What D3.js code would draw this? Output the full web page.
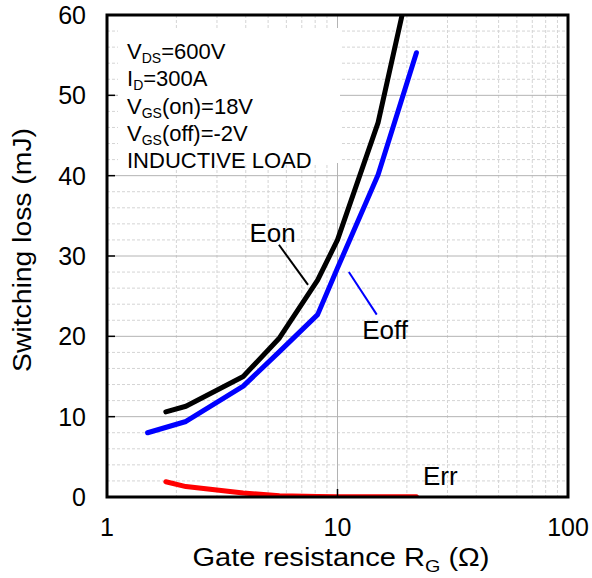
<!DOCTYPE html>
<html>
<head>
<meta charset="utf-8">
<script src="https://cdn.jsdelivr.net/npm/d3@7"></script>
<style>
    body { margin: 0; background: #fff; }
    svg { display: block; font-family: "Liberation Sans", Arial, sans-serif; }
</style>
</head>
<body>
<div id="chart"></div>
<script>
// Gate resistance (ohm) for each measured point
const rgOn = [1.8, 2.2, 3.9, 5.6, 8.2, 10, 15, 22];
const rgOff = [1.5, 2.2, 3.9, 5.6, 8.2, 10, 15, 22];
const rgRr = [1.8, 2.2, 3.9, 5.6, 8.2, 10, 15, 22];
// Switching loss (mJ)
const eOn = [10.6, 11.3, 15.0, 19.8, 27.0, 32.0, 46.6, 68];
const eOff = [8.0, 9.4, 13.8, 18.1, 22.7, 28.5, 40.1, 55.3];
const eRr = [1.9, 1.3, 0.5, 0.15, 0.05, 0.03, 0.02, 0.02];
// Ticks
const xTicks = [1, 10, 100];
const yTicks = [0, 10, 20, 30, 40, 50, 60];
// Conditions box
const conditions = [
    ["V", "DS", "=600V"],
    ["I", "D", "=300A"],
    ["V", "GS", "(on)=18V"],
    ["V", "GS", "(off)=-2V"],
    ["INDUCTIVE LOAD", "", ""]
];

const W = 592, H = 578;
const m = { top: 15, right: 24, bottom: 81, left: 107 };

const svg = d3.select("#chart")
    .append("svg")
    .attr("width", W)
    .attr("height", H);

const x = d3.scaleLog().domain([1, 100]).range([m.left, W - m.right]);
const y = d3.scaleLinear().domain([0, 60]).range([H - m.bottom, m.top]);

// Grid: minor
const xMinor = [];
[1, 10].forEach(d => { for (let k = 2; k <= 9; k++) xMinor.push(d * k); });
const yMinor = d3.range(2, 60, 2).filter(v => v % 10 !== 0);

const grid = svg.append("g");
grid.selectAll(".vmin")
    .data(xMinor)
    .join("line")
    .attr("x1", d => x(d)).attr("x2", d => x(d))
    .attr("y1", y(60)).attr("y2", y(0))
    .attr("stroke", "#d4d4d4")
    .attr("stroke-dasharray", "3,2");
grid.selectAll(".hmin")
    .data(yMinor)
    .join("line")
    .attr("x1", x(1)).attr("x2", x(100))
    .attr("y1", d => y(d)).attr("y2", d => y(d))
    .attr("stroke", "#d4d4d4")
    .attr("stroke-dasharray", "3,2");
// Grid: major
grid.append("line")
    .attr("x1", x(10)).attr("x2", x(10))
    .attr("y1", y(60)).attr("y2", y(0))
    .attr("stroke", "#b4b4b4");
grid.selectAll(".hmaj")
    .data(yTicks.slice(1, -1))
    .join("line")
    .attr("x1", x(1)).attr("x2", x(100))
    .attr("y1", d => y(d)).attr("y2", d => y(d))
    .attr("stroke", "#b4b4b4");

// White box behind conditions
svg.append("rect")
    .attr("x", 118).attr("y", 28)
    .attr("width", 222).attr("height", 135)
    .attr("fill", "#fff");

// Conditions text, one text element per line
svg.selectAll(".cond")
    .data(conditions)
    .join("text")
    .attr("x", 127)
    .attr("y", (d, i) => 59 + i * 27.3)
    .attr("font-size", 22)
    .attr("fill", "#000")
    .each(function (c) {
        const t = d3.select(this);
        t.append("tspan").text(c[0]);
        if (c[1]) {
            t.append("tspan").attr("font-size", 14).attr("dy", 4).text(c[1]);
            t.append("tspan").attr("dy", -4).text(c[2]);
        }
    });

// Clip for curves
svg.append("clipPath").attr("id", "clip")
    .append("rect")
    .attr("x", x(1)).attr("y", y(60))
    .attr("width", x(100) - x(1)).attr("height", y(0) - y(60));

const line = d3.line()
    .x(d => x(d[0]))
    .y(d => y(d[1]));

const curves = [
    { r: rgRr, e: eRr, color: "#ff0000" },
    { r: rgOff, e: eOff, color: "#0000ff" },
    { r: rgOn, e: eOn, color: "#000000" }
];
svg.append("g")
    .attr("clip-path", "url(#clip)")
    .selectAll("path")
    .data(curves)
    .join("path")
    .attr("d", d => line(d.r.map((r, i) => [r, d.e[i]])))
    .attr("fill", "none")
    .attr("stroke", d => d.color)
    .attr("stroke-width", 5)
    .attr("stroke-linecap", "round")
    .attr("stroke-linejoin", "round");

// Curve labels and leader lines
const leaders = [
    { p: [[5.57, 31.4], [7.45, 26.4]], color: "#000" },
    { p: [[11.2, 28.0], [14.8, 22.7]], color: "#0000ff" }
];
svg.selectAll(".leader")
    .data(leaders)
    .join("line")
    .attr("x1", d => x(d.p[0][0])).attr("y1", d => y(d.p[0][1]))
    .attr("x2", d => x(d.p[1][0])).attr("y2", d => y(d.p[1][1]))
    .attr("stroke", d => d.color)
    .attr("stroke-width", 2);

const labels = [
    { t: "Eon", r: 4.15, e: 31.8 },
    { t: "Eoff", r: 12.8, e: 19.7 },
    { t: "Err", r: 23.5, e: 1.5 }
];
svg.selectAll(".lbl")
    .data(labels)
    .join("text")
    .attr("x", d => x(d.r))
    .attr("y", d => y(d.e))
    .attr("font-size", 26)
    .attr("fill", "#000")
    .text(d => d.t);

// Axis frame
svg.append("rect")
    .attr("x", x(1)).attr("y", y(60))
    .attr("width", x(100) - x(1)).attr("height", y(0) - y(60))
    .attr("fill", "none")
    .attr("stroke", "#000")
    .attr("stroke-width", 3);

// Inner major ticks
svg.selectAll(".ytk")
    .data(yTicks.slice(1, -1))
    .join("line")
    .attr("x1", x(1)).attr("x2", x(1) + 8)
    .attr("y1", d => y(d)).attr("y2", d => y(d))
    .attr("stroke", "#000").attr("stroke-width", 1.5);
svg.append("line")
    .attr("x1", x(10)).attr("x2", x(10))
    .attr("y1", y(0)).attr("y2", y(0) - 8)
    .attr("stroke", "#000").attr("stroke-width", 1.5);

// Tick labels
svg.selectAll(".ylab")
    .data(yTicks)
    .join("text")
    .attr("x", 86)
    .attr("y", d => y(d) + 9)
    .attr("text-anchor", "end")
    .attr("font-size", 25)
    .text(d => d);
svg.selectAll(".xlab")
    .data(xTicks)
    .join("text")
    .attr("x", d => x(d))
    .attr("y", 536)
    .attr("text-anchor", "middle")
    .attr("font-size", 25)
    .text(d => d);

// Axis titles
const xt = svg.append("text")
    .attr("x", 341)
    .attr("y", 566)
    .attr("text-anchor", "middle")
    .attr("font-size", 25)
    .attr("textLength", 297)
    .attr("lengthAdjust", "spacingAndGlyphs");
xt.append("tspan").text("Gate resistance R");
xt.append("tspan").attr("font-size", 17).attr("dy", 6).text("G");
xt.append("tspan").attr("dy", -6).text(" (Ω)");

svg.append("text")
    .attr("transform", "translate(31, 250) rotate(-90)")
    .attr("text-anchor", "middle")
    .attr("font-size", 26)
    .attr("textLength", 244)
    .attr("lengthAdjust", "spacingAndGlyphs")
    .text("Switching loss (mJ)");
</script>
</body>
</html>
